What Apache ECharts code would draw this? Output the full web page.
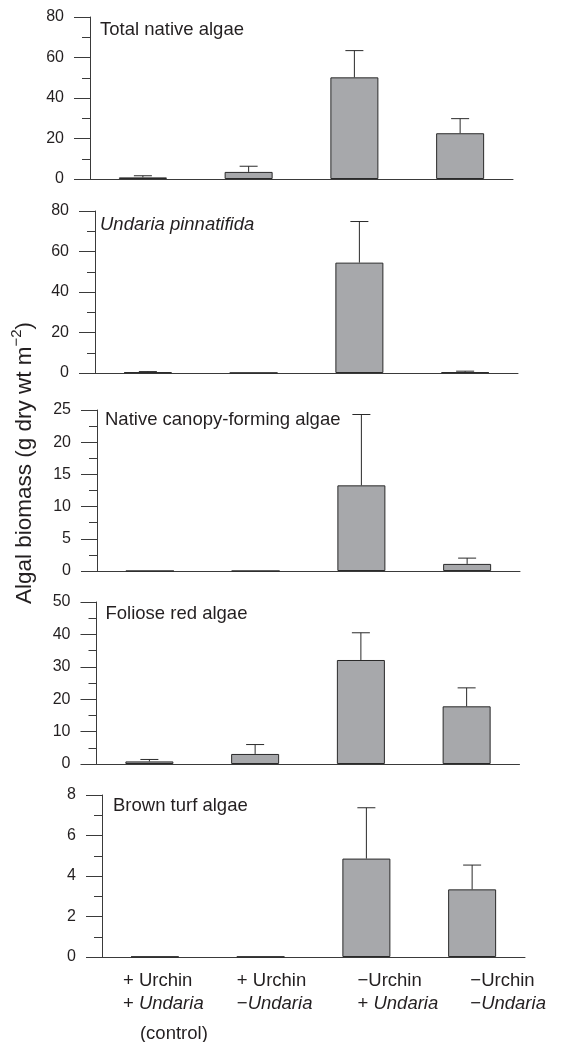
<!DOCTYPE html>
<html>
<head>
<meta charset="utf-8">
<script src="https://cdn.jsdelivr.net/npm/echarts@6/dist/echarts.min.js"></script>
<style>
  html, body { margin: 0; padding: 0; background: #fff; }
  #chart { width: 565px; height: 1042px; }
</style>
</head>
<body>
<div id="chart"></div>
<script>
// treatments (x categories)
const treatments = ['+Urchin +Undaria', '+Urchin −Undaria', '−Urchin +Undaria', '−Urchin −Undaria'];
const urchinText = ['+ Urchin', '+ Urchin', '−Urchin', '−Urchin'];
const undariaSign = ['+ ', '−', '+ ', '−'];
const treatmentNote = ['(control)', '', '', ''];

// panel names
const panelTitles = ['Total native algae', 'Undaria pinnatifida', 'Native canopy-forming algae', 'Foliose red algae', 'Brown turf algae'];

// means and upper SE per panel
const totalNative = [0.8, 3.5, 50.2, 22.6];
const totalNativeErr = [0.8, 2.8, 13.2, 7.2];
const undaria = [0.4, 0.1, 54.5, 0.4];
const undariaErr = [0.3, 0, 20.3, 0.5];
const canopy = [0, 0, 13.3, 1.1];
const canopyErr = [0, 0, 11.0, 0.9];
const foliose = [0.8, 3.1, 32.1, 17.8];
const folioseErr = [0.6, 2.9, 8.4, 5.7];
const brownTurf = [0.02, 0.02, 4.86, 3.34];
const brownTurfErr = [0, 0, 2.51, 1.2];

// y axis ranges
const yMax = [80, 80, 25, 50, 8];
const yStep = [20, 20, 5, 10, 2];

const means = [totalNative, undaria, canopy, foliose, brownTurf];
const errs = [totalNativeErr, undariaErr, canopyErr, folioseErr, brownTurfErr];

const chart = echarts.init(document.getElementById('chart'));
const font = '"Liberation Sans", Arial, Helvetica, sans-serif';
const ink = '#231f20';

// panel layout
const grids = [
  { left: 90, top: 17, height: 162 },
  { left: 95, top: 211, height: 162 },
  { left: 97, top: 410, height: 161 },
  { left: 96.5, top: 602, height: 162 },
  { left: 102, top: 795, height: 162 }
];
const titleOffset = [[10, 13], [5, 14], [8, 10], [9, 12], [11, 11]];
const labelPad = [21, 28, 63, 72];

const grid = [], xAxis = [], yAxis = [], series = [], graphic = [];

grids.forEach(function (g, k) {
  grid.push({ left: g.left, top: g.top, width: 423, height: g.height, outerBoundsMode: 'none', containLabel: false });
  xAxis.push({
    gridIndex: k,
    type: 'category',
    data: treatments.map(function (t, i) {
      return { value: t, textStyle: { padding: [0, 0, 0, labelPad[i]] } };
    }),
    axisLine: { lineStyle: { color: '#3a3a3a', width: 1 } },
    axisTick: { alignWithLabel: true, interval: 0, length: 9, lineStyle: { color: '#3a3a3a' } },
    axisLabel: {
      show: k === 4,
      interval: 0,
      margin: 13,
      color: ink,
      fontFamily: font,
      fontSize: 18.5,
      formatter: function (v, i) {
        let s = '{n|' + urchinText[i] + '}\n{n|' + undariaSign[i] + '}{it|Undaria}';
        if (treatmentNote[i]) s += '\n{c|' + treatmentNote[i] + '}';
        return s;
      },
      rich: {
        n: { fontFamily: font, fontSize: 18.5, color: ink, lineHeight: 22.6, align: 'left' },
        it: { fontFamily: font, fontSize: 18.5, fontStyle: 'italic', color: ink, lineHeight: 22.6, align: 'left' },
        c: { fontFamily: font, fontSize: 18.5, color: ink, lineHeight: 38, align: 'left', padding: [0, 0, 0, 17] }
      }
    }
  });
  yAxis.push({
    gridIndex: k,
    type: 'value',
    min: 0,
    max: yMax[k],
    interval: yStep[k],
    axisLine: { show: true, lineStyle: { color: '#3a3a3a', width: 1 } },
    axisTick: { show: true, length: 16, lineStyle: { color: '#3a3a3a' } },
    minorTick: { show: true, splitNumber: 2, length: 8, lineStyle: { color: '#3a3a3a' } },
    splitLine: { show: false },
    axisLabel: { fontSize: 16, color: ink, fontFamily: font, margin: 26 }
  });
  series.push({
    type: 'bar',
    xAxisIndex: k,
    yAxisIndex: k,
    data: means[k],
    barWidth: 48,
    itemStyle: { color: '#a7a8ab', borderColor: '#2a2a2a', borderWidth: 1 },
    silent: true
  });
  series.push({
    type: 'custom',
    xAxisIndex: k,
    yAxisIndex: k,
    z: 3,
    data: means[k].map(function (m, i) { return [i, m, errs[k][i]]; }),
    encode: { x: 0, y: 1 },
    renderItem: function (params, api) {
      const e = api.value(2);
      if (!e) return null;
      const x = api.value(0), m = api.value(1);
      const base = api.coord([x, m]);
      const top = api.coord([x, m + e]);
      const st = { stroke: '#2a2a2a', lineWidth: 1 };
      return {
        type: 'group',
        children: [
          { type: 'line', shape: { x1: base[0], y1: base[1], x2: top[0], y2: top[1] }, style: st },
          { type: 'line', shape: { x1: top[0] - 9, y1: top[1], x2: top[0] + 9, y2: top[1] }, style: st }
        ]
      };
    }
  });
  graphic.push({
    type: 'text',
    x: g.left + titleOffset[k][0],
    y: g.top + titleOffset[k][1],
    style: {
      text: panelTitles[k],
      fontFamily: font,
      fontSize: 18.5,
      fontStyle: k === 1 ? 'italic' : 'normal',
      fill: ink,
      verticalAlign: 'middle'
    }
  });
});

graphic.push({
  type: 'text',
  x: 25,
  y: 463,
  rotation: Math.PI / 2,
  style: {
    text: '{a|Algal biomass (g dry wt m}{s|−2}{a|)}',
    align: 'center',
    verticalAlign: 'middle',
    rich: {
      a: { fontFamily: font, fontSize: 22.5, fill: ink },
      s: { fontFamily: font, fontSize: 15, fill: ink, padding: [0, 0, 17, 0] }
    }
  }
});

chart.setOption({
  animation: false,
  grid: grid,
  xAxis: xAxis,
  yAxis: yAxis,
  series: series,
  graphic: graphic
});
</script>
</body>
</html>
